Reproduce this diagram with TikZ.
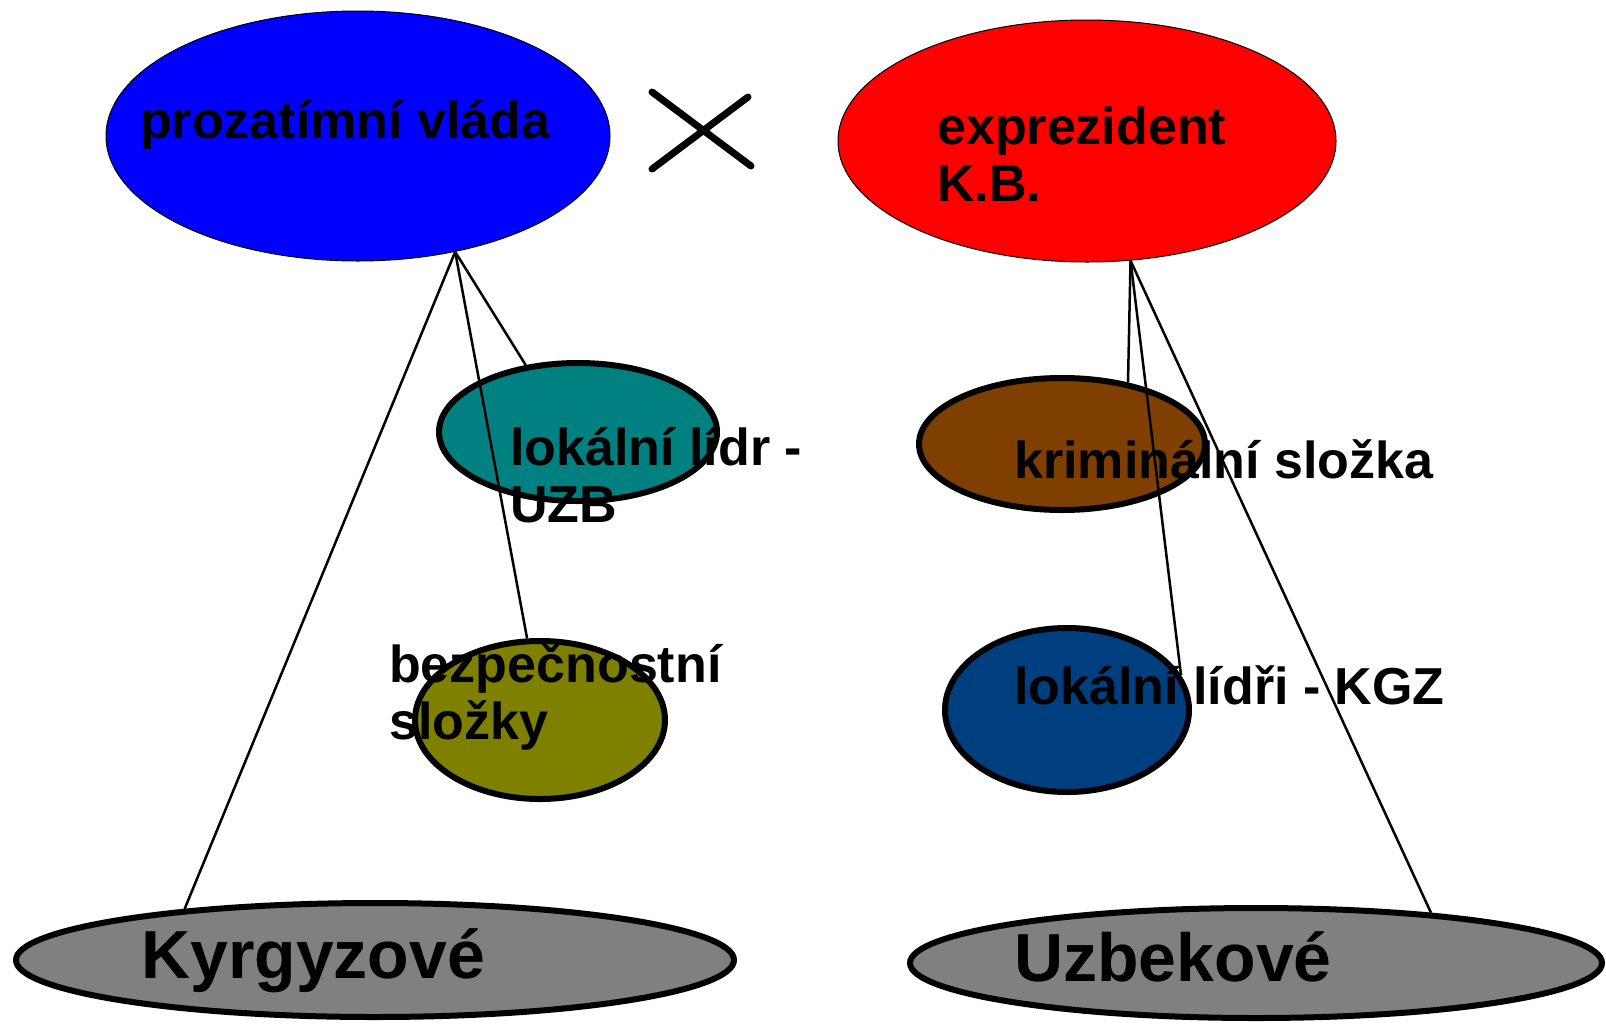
\documentclass[tikz,border=0pt]{standalone}
\usepackage{fontspec}
\setmainfont{Liberation Sans}
\usetikzlibrary{shapes,positioning}

\definecolor{vladablue}{HTML}{0000FF}
\definecolor{kbred}{HTML}{FF0000}
\definecolor{uzbteal}{HTML}{008080}
\definecolor{bezolive}{HTML}{808000}
\definecolor{krimbrown}{HTML}{7F3F00}
\definecolor{kgzblue}{HTML}{003F7F}
\definecolor{lidgray}{HTML}{808080}

\tikzset{
  blob/.style={ellipse, draw=black, inner sep=0pt},
  thinblob/.style={blob, line width=1pt},
  thickblob/.style={blob, line width=6pt},
  lbl/.style={anchor=base west, inner sep=0pt, font=\bfseries\fontsize{52}{56.5}\selectfont, align=left},
  biglbl/.style={lbl, font=\bfseries\fontsize{68}{72}\selectfont},
  link/.style={line width=2.5pt},
}

\begin{document}
\begin{tikzpicture}[x=1pt, y=-1pt]
  \useasboundingbox (0,0) rectangle (1606,1023);

  % Draw top ellipses
  \node[thinblob, fill=vladablue, minimum width=504pt, minimum height=250pt] (vlada) at (358,136) {};
  \node[thinblob, fill=kbred, minimum width=498pt, minimum height=242pt] (kb) at (1087,141) {};

  % Draw middle ellipses
  \node[thickblob, fill=uzbteal, minimum width=278pt, minimum height=138pt] (lidr) at (578,432) {};
  \node[thickblob, fill=bezolive, minimum width=250pt, minimum height=158pt] (bez) at (540,720) {};
  \node[thickblob, fill=krimbrown, minimum width=286pt, minimum height=132pt] (krim) at (1062,444) {};
  \node[thickblob, fill=kgzblue, minimum width=244pt, minimum height=164pt] (lidri) at (1067,710) {};

  % Draw bottom ellipses
  \node[thickblob, fill=lidgray, minimum width=718pt, minimum height=114pt] (kyrg) at (375,960) {};
  \node[thickblob, fill=lidgray, minimum width=692pt, minimum height=110pt] (uzb) at (1256,963) {};

  % Draw labels (base is the last line)
  \node[lbl] (vladaT) at (140,138) {prozatímní vláda};
  \node[lbl] (kbT) at (937,201) {exprezident\\K.B.};
  \node[lbl] (lidrT) at (510,522) {lokální lídr -\\UZB};
  \node[lbl] (bezT) at (389,739) {bezpečnostní\\složky};
  \node[lbl] (krimT) at (1014,478) {kriminální složka};
  \node[lbl] (lidriT) at (1014,704) {lokální lídři - KGZ};
  \node[biglbl] (kyrgT) at (141,978) {Kyrgyzové};
  \node[biglbl] (uzbT) at (1014,981) {Uzbekové};

  % Draw links
  \draw[link] (vlada.310) -- (kyrg.165.7);
  \draw[link] (vlada.310) -- (lidr.128);
  \draw[link] (vlada.310) -- (bez.99);
  \draw[link] (kb.290) -- (krim.43);
  \draw[link] (kb.290) -- (lidri.17);
  \draw[link] (kb.290) -- (uzb.16);

  % Draw cross
  \draw[line width=7pt, line cap=round] (652,92) -- (751,166) (652,169) -- (748,97);
\end{tikzpicture}
\end{document}
